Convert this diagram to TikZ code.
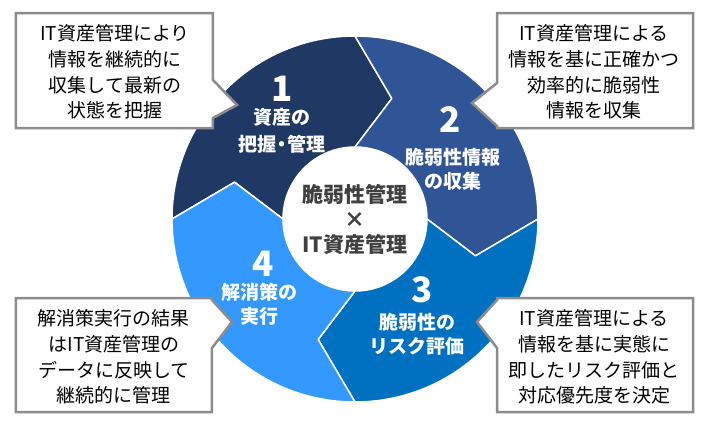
\documentclass[tikz,border=0pt]{standalone}
\usepackage{fontspec}
\newfontfamily\jpfont{Noto Sans CJK JP}
\definecolor{segnavy}{HTML}{203864}
\definecolor{segdark}{HTML}{2F5597}
\definecolor{segmid}{HTML}{0070C0}
\definecolor{seglight}{HTML}{3399FF}
\definecolor{notegray}{HTML}{8C8C8C}
\definecolor{hubtext}{HTML}{404040}
\tikzset{
  seg/.style={draw=white, line width=1.5pt, line join=round},
  hub/.style={circle, fill=white, minimum size=144pt, inner sep=0pt, align=center,
              text=hubtext, font={\jpfont\bfseries\fontsize{21}{25}\selectfont}},
  num/.style={text=white, font={\jpfont\bfseries\fontsize{35}{35}\selectfont}},
  seglab/.style={text=white, align=center, font={\jpfont\bfseries\fontsize{19}{24}\selectfont}},
  notebox/.style={draw=notegray, line width=2.5pt, fill=white, line join=miter},
  notetxt/.style={align=center, font={\jpfont\fontsize{19}{25.8}\selectfont}},
}
\begin{document}
\begin{tikzpicture}[x=1pt, y=1pt]
  \useasboundingbox (-355,-218) rectangle (354,219);
  % ring segments, chevron edges
  \filldraw[seg, fill=segnavy] (180:183) arc[start angle=180, end angle=90, radius=183] -- (73:126) -- (90:72) arc[start angle=90, end angle=180, radius=72] -- (163:126) -- cycle;
  \filldraw[seg, fill=segdark] (90:183) arc[start angle=90, end angle=0, radius=183] -- (-17:126) -- (0:72) arc[start angle=0, end angle=90, radius=72] -- (73:126) -- cycle;
  \filldraw[seg, fill=segmid] (0:183) arc[start angle=0, end angle=-90, radius=183] -- (-107:126) -- (-90:72) arc[start angle=-90, end angle=0, radius=72] -- (-17:126) -- cycle;
  \filldraw[seg, fill=seglight] (-90:183) arc[start angle=-90, end angle=-180, radius=183] -- (163:126) -- (180:72) arc[start angle=-180, end angle=-90, radius=72] -- (-107:126) -- cycle;
  \node[hub] (hub) at (0,0) {脆弱性管理\\×\\IT資産管理};
  % step labels
  \node[num] (n1) at (-73,130) {1};
  \node[seglab] (s1) at (-73,88) {資産の\\[3.5pt]把握\hspace{-4pt}・\hspace{-4pt}管理};
  \node[num] (n2) at (95,99) {2};
  \node[seglab] (s2) at (98,50) {脆弱性情報\\の収集};
  \node[num] (n3) at (67,-71) {3};
  \node[seglab] (s3) at (62,-115) {脆弱性の\\リスク評価};
  \node[num] (n4) at (-92,-45) {4};
  \node[seglab] (s4) at (-95,-85) {解消策の\\実行};
  % callouts
  \coordinate (tip1) at (-118,114);
  \coordinate (tip2) at (117,116);
  \coordinate (tip3) at (122,-103);
  \coordinate (tip4) at (-123,-103);
  \draw[notebox] (-339,206) -- (-142,206) -- (-142,139) -- (tip1) -- (-142,101) -- (-142,91) -- (-339,91) -- cycle;
  \draw[notebox] (142,206) -- (338,206) -- (338,91) -- (142,91) -- (142,93) -- (tip2) -- (142,136) -- cycle;
  \draw[notebox] (142,-79) -- (338,-79) -- (338,-193) -- (142,-193) -- (142,-129) -- (tip3) -- (142,-81) -- cycle;
  \draw[notebox] (-339,-79) -- (-143,-79) -- (-143,-81) -- (tip4) -- (-143,-129) -- (-143,-193) -- (-339,-193) -- cycle;
  \node[notetxt] (note1) at (-240,147) {IT資産管理により\\情報を継続的に\\収集して最新の\\状態を把握};
  \node[notetxt] (note2) at (239,147) {IT資産管理による\\情報を基に正確かつ\\効率的に脆弱性\\情報を収集};
  \node[notetxt] (note3) at (239,-138) {IT資産管理による\\情報を基に実態に\\即したリスク評価と\\対応優先度を決定};
  \node[notetxt] (note4) at (-241,-138) {解消策実行の結果\\はIT資産管理の\\データに反映して\\継続的に管理};
\end{tikzpicture}
\end{document}
